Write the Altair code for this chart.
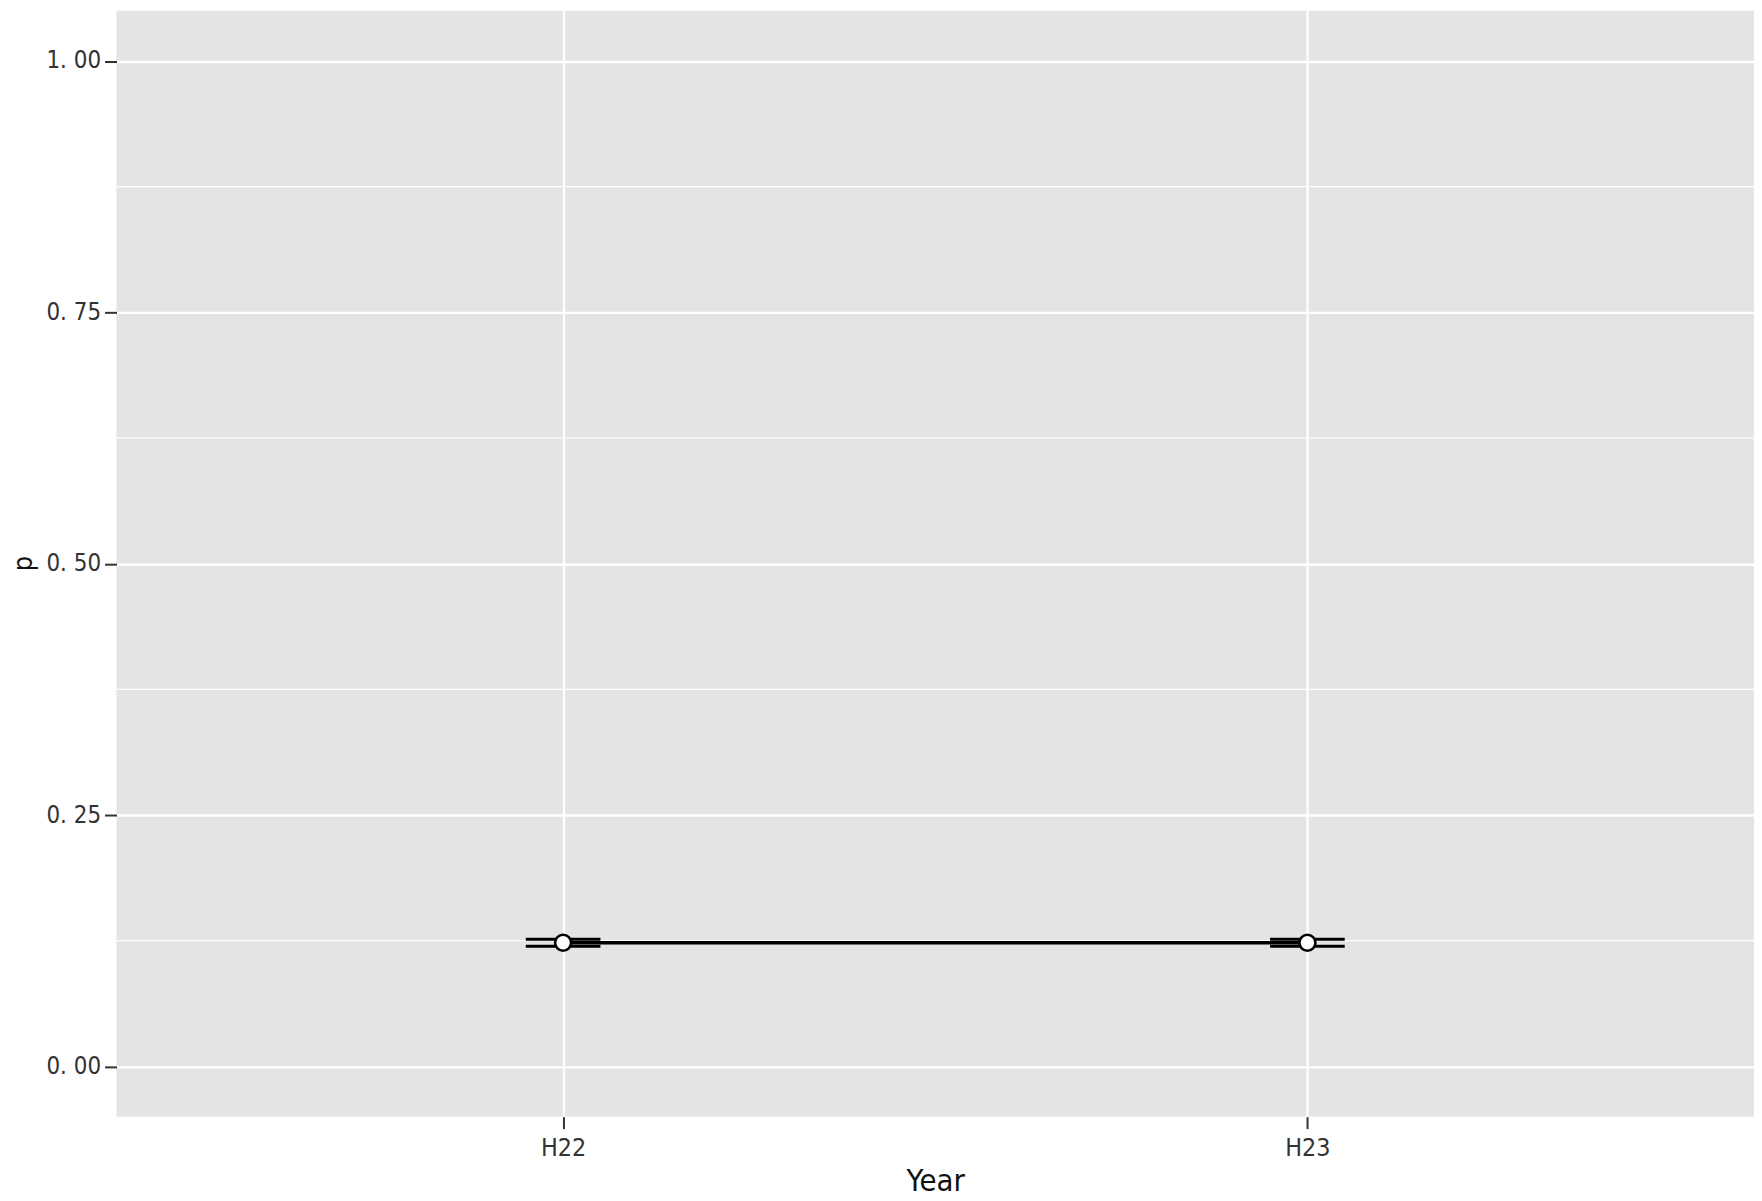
import altair as alt
import pandas as pd

years = ["H22", "H23"]
p_vals = [0.123, 0.123]
lo_vals = [0.1195, 0.1195]
hi_vals = [0.1265, 0.1265]
minor_breaks = [0.125, 0.375, 0.625, 0.875]
major_breaks = [0.0, 0.25, 0.5, 0.75, 1.0]

df = pd.DataFrame({"Year": years, "p": p_vals, "lo": lo_vals, "hi": hi_vals})
minor_df = pd.DataFrame({"m": minor_breaks})

FONT = "Liberation Sans Narrow, DejaVu Sans Condensed, Noto Sans CJK JP"

x_enc = alt.X(
    "Year:N",
    sort=years,
    scale=alt.Scale(type="point", padding=0.6),
    axis=alt.Axis(
        title="Year", labelAngle=0, grid=True, gridColor="white", gridWidth=2.2,
        domain=False, tickSize=12, tickWidth=2, tickColor="#333333",
        labelFont=FONT, labelFontSize=25, labelColor="#333333", labelPadding=7,
        titleFont=FONT, titleFontSize=31, titleFontWeight="normal", titleColor="#111111",
        titlePadding=6,
    ),
)
y_scale = alt.Scale(domain=[-0.05, 1.05], nice=False, zero=False)
y_axis = alt.Axis(
    title="p", values=major_breaks, grid=True, gridColor="white", gridWidth=2.4,
    domain=False, tickSize=12, tickWidth=2, tickColor="#333333",
    labelExpr="replace(format(datum.value, '.2f'), '.', '. ')",
    labelFont=FONT, labelFontSize=24, labelColor="#333333", labelPadding=4,
    titleFont=FONT, titleFontSize=27, titleFontWeight="normal", titleColor="#111111",
    titleX=-93, titleY=555, titleBaseline="middle", titleAlign="center",
)

minor = alt.Chart(minor_df).mark_rule(color="white", strokeWidth=1.2).encode(
    y=alt.Y("m:Q", scale=y_scale, axis=y_axis)
)

base = alt.Chart(df)
line = base.mark_line(color="black", strokeWidth=3.5).encode(
    x=x_enc, y=alt.Y("p:Q", scale=y_scale, axis=y_axis)
)
vbar = base.mark_rule(color="black", strokeWidth=2.5, opacity=1).encode(
    x=alt.X("Year:N", sort=years), y=alt.Y("lo:Q", scale=y_scale), y2="hi:Q"
)
tick_lo = base.mark_tick(color="black", size=75, thickness=3, opacity=1).encode(
    x=alt.X("Year:N", sort=years), y=alt.Y("lo:Q", scale=y_scale)
)
tick_hi = base.mark_tick(color="black", size=75, thickness=3, opacity=1).encode(
    x=alt.X("Year:N", sort=years), y=alt.Y("hi:Q", scale=y_scale)
)
pts = base.mark_point(shape="circle", filled=True, fill="white", stroke="black",
                      strokeWidth=2.6, size=260, opacity=1).encode(
    x=alt.X("Year:N", sort=years), y=alt.Y("p:Q", scale=y_scale)
)

chart = alt.layer(minor, line, vbar, tick_lo, tick_hi, pts).properties(
    width=1645, height=1111,
    autosize=alt.AutoSizeParams(type="none"),
    padding={"left": 109, "top": 0, "right": 0, "bottom": 82},
).configure_view(fill="#E4E4E4", stroke=None)

chart.save("out.html", embed_options={"renderer": "svg", "actions": False})
